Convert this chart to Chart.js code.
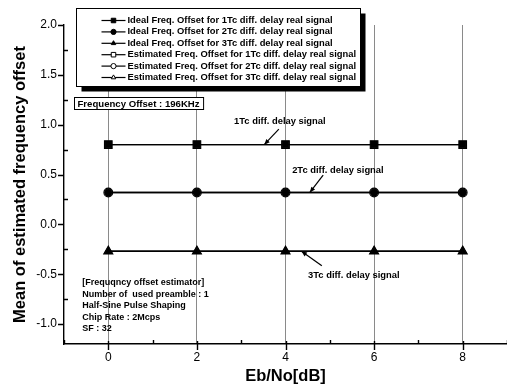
<!DOCTYPE html>
<html>
<head>
<meta charset="utf-8">
<script src="https://cdn.jsdelivr.net/npm/chart.js@4.4.1/dist/chart.umd.min.js"></script>
<style>
  html, body { margin: 0; padding: 0; background: #fff; }
  #wrap { width: 507px; height: 391px; }
</style>
</head>
<body>
<div id="wrap"><canvas id="c" width="507" height="391"></canvas></div>
<script>
// Eb/No points (dB)
const ebNo = [0, 2, 4, 6, 8];

// Ideal frequency offset per differential delay
const ideal1Tc = [0.80, 0.80, 0.80, 0.80, 0.80];
const ideal2Tc = [0.32, 0.32, 0.32, 0.32, 0.32];
const ideal3Tc = [-0.27, -0.27, -0.27, -0.27, -0.27];

// Estimated (mean) frequency offset per differential delay
const est1Tc = [0.80, 0.80, 0.80, 0.80, 0.80];
const est2Tc = [0.32, 0.32, 0.32, 0.32, 0.32];
const est3Tc = [-0.27, -0.27, -0.27, -0.27, -0.27];

const seriesLabels = [
  'Ideal Freq. Offset for 1Tc diff. delay real signal',
  'Ideal Freq. Offset for 2Tc diff. delay real signal',
  'Ideal Freq. Offset for 3Tc diff. delay real signal',
  'Estimated Freq. Offset for 1Tc diff. delay real signal',
  'Estimated Freq. Offset for 2Tc diff. delay real signal',
  'Estimated Freq. Offset for 3Tc diff. delay real signal'
];

const xTickValues = [0, 2, 4, 6, 8];
const xMinorValues = [-1, 1, 3, 5, 7, 9];
const yTickValues = [-1.0, -0.5, 0.0, 0.5, 1.0, 1.5, 2.0];
const yMinorValues = [-0.75, -0.25, 0.25, 0.75, 1.25, 1.75];

const offsetNote = 'Frequency Offset : 196KHz';
const estimatorNotes = [
  '[Frequqncy offset estimator]',
  'Number of  used preamble : 1',
  'Half-Sine Pulse Shaping',
  'Chip Rate : 2Mcps',
  'SF : 32'
];
// Callout labels: text, text anchor (data units), arrow start and tip (data units)
const callouts = [
  { text: '1Tc diff. delay signal', at: [2.84, 1.03], from: [3.85, 0.955], to: [3.52, 0.80] },
  { text: '2Tc diff. delay signal', at: [4.15, 0.545], from: [4.85, 0.495], to: [4.55, 0.32] },
  { text: '3Tc diff. delay signal', at: [4.51, -0.515], from: [4.82, -0.415], to: [4.36, -0.27] }
];

const toPoints = arr => arr.map((v, i) => ({ x: ebNo[i], y: v }));

function series(label, data, style, filled, radius) {
  return {
    label: label,
    data: toPoints(data),
    borderColor: '#000',
    borderWidth: 1.4,
    pointStyle: style,
    pointRadius: radius,
    pointHoverRadius: radius,
    pointBackgroundColor: filled ? '#000' : '#fff',
    pointBorderColor: '#000',
    pointBorderWidth: 1.1,
    showLine: true,
    tension: 0,
    filled: filled
  };
}

const FONT = '"Liberation Sans", Arial, sans-serif';

// Axis tick marks: major outward, minor inward
const tickMarks = {
  id: 'tickMarks',
  afterDraw(chart) {
    const { ctx, chartArea: a, scales: { x, y } } = chart;
    ctx.save();
    ctx.strokeStyle = '#000';
    ctx.lineWidth = 1.4;
    ctx.beginPath();
    yTickValues.forEach(v => { const py = Math.round(y.getPixelForValue(v)) + 0.5; ctx.moveTo(a.left - 6, py); ctx.lineTo(a.left, py); });
    yMinorValues.forEach(v => { const py = Math.round(y.getPixelForValue(v)) + 0.5; ctx.moveTo(a.left, py); ctx.lineTo(a.left + 4, py); });
    xTickValues.forEach(v => { const px = Math.round(x.getPixelForValue(v)) + 0.5; ctx.moveTo(px, a.bottom - 3); ctx.lineTo(px, a.bottom + 6); });
    xMinorValues.forEach(v => { const px = Math.round(x.getPixelForValue(v)) + 0.5; ctx.moveTo(px, a.bottom); ctx.lineTo(px, a.bottom - 4); });
    ctx.stroke();
    ctx.restore();
  }
};

// Boxed legend with drop shadow, plus the text notes and callouts
const notes = {
  id: 'notes',
  afterDraw(chart) {
    const { ctx, scales: { x, y } } = chart;
    const px = v => x.getPixelForValue(v);
    const py = v => y.getPixelForValue(v);
    ctx.save();

    // legend box
    const bx = Math.round(px(-0.74)) + 0.5, by = Math.round(py(2.175)) + 0.5;
    const bw = 284, bh = 78;
    ctx.fillStyle = '#000';
    ctx.fillRect(bx + 5, by + 5, bw, bh);
    ctx.fillStyle = '#fff';
    ctx.fillRect(bx, by, bw, bh);
    ctx.strokeStyle = '#000';
    ctx.lineWidth = 1;
    ctx.strokeRect(bx, by, bw, bh);

    ctx.font = 'bold 9.4px ' + FONT;
    ctx.textBaseline = 'middle';
    ctx.textAlign = 'left';
    chart.data.datasets.forEach((ds, i) => {
      const ly = by + 12 + i * 11.4;
      const sx = bx + 25, ex = bx + 49, mx = (sx + ex) / 2;
      ctx.strokeStyle = '#000';
      ctx.lineWidth = 1.2;
      ctx.beginPath();
      ctx.moveTo(sx, ly); ctx.lineTo(ex, ly);
      ctx.stroke();
      ctx.fillStyle = ds.filled ? '#000' : '#fff';
      ctx.lineWidth = 1;
      Chart.helpers.drawPoint(ctx, { pointStyle: ds.pointStyle, radius: ds.pointStyle === 'rect' ? 3.2 : 2.6, rotation: 0, borderWidth: 1 }, mx, ly);
      ctx.fillStyle = '#000';
      ctx.fillText(ds.label, ex + 2, ly);
    });

    // frequency offset box
    ctx.font = 'bold 9.6px ' + FONT;
    const fx = Math.round(px(-0.77)) + 0.5, fy = Math.round(py(1.275)) + 0.5;
    const fw = ctx.measureText(offsetNote).width + 7;
    ctx.fillStyle = '#fff';
    ctx.fillRect(fx, fy, fw, 12);
    ctx.strokeStyle = '#000';
    ctx.lineWidth = 1;
    ctx.strokeRect(fx, fy, fw, 12);
    ctx.fillStyle = '#000';
    ctx.fillText(offsetNote, fx + 3, fy + 6.5);

    // estimator parameters
    ctx.font = 'bold 9px ' + FONT;
    estimatorNotes.forEach((t, i) => {
      ctx.fillText(t, px(-0.59), py(-0.585) + i * 11.5);
    });

    // callouts with arrows
    ctx.font = 'bold 9.4px ' + FONT;
    callouts.forEach(c => {
      ctx.fillStyle = '#000';
      ctx.fillText(c.text, px(c.at[0]), py(c.at[1]));
      const x0 = px(c.from[0]), y0 = py(c.from[1]);
      const x1 = px(c.to[0]), y1 = py(c.to[1]);
      ctx.strokeStyle = '#000';
      ctx.lineWidth = 1.2;
      ctx.beginPath();
      ctx.moveTo(x0, y0); ctx.lineTo(x1, y1);
      ctx.stroke();
      const ang = Math.atan2(y1 - y0, x1 - x0), L = 6, w = 0.4;
      ctx.beginPath();
      ctx.moveTo(x1, y1);
      ctx.lineTo(x1 - L * Math.cos(ang - w), y1 - L * Math.sin(ang - w));
      ctx.lineTo(x1 - L * Math.cos(ang + w), y1 - L * Math.sin(ang + w));
      ctx.closePath();
      ctx.fill();
    });

    ctx.restore();
  }
};

new Chart(document.getElementById('c'), {
  type: 'scatter',
  data: {
    datasets: [
      series(seriesLabels[0], ideal1Tc, 'rect', true, 4.6),
      series(seriesLabels[1], ideal2Tc, 'circle', true, 3.6),
      series(seriesLabels[2], ideal3Tc, 'triangle', true, 4.4),
      series(seriesLabels[3], est1Tc, 'rect', false, 5.4),
      series(seriesLabels[4], est2Tc, 'circle', false, 4.4),
      series(seriesLabels[5], est3Tc, 'triangle', false, 5.2)
    ]
  },
  options: {
    responsive: false,
    animation: false,
    layout: { autoPadding: false, padding: { top: 25, right: 0, left: 0, bottom: 0 } },
    plugins: { legend: { display: false }, tooltip: { enabled: false } },
    scales: {
      x: {
        type: 'linear',
        min: -1, max: 9,
        afterBuildTicks: s => { s.ticks = xTickValues.map(v => ({ value: v })); },
        afterFit: s => { s.height = 47; },
        ticks: { color: '#000', padding: 6, font: { family: FONT, size: 12 }, callback: v => String(v) },
        grid: { display: true, drawTicks: false, color: '#8a8a8a', lineWidth: 1, borderDash: [4, 2, 1, 2] },
        border: { display: true, color: '#000', width: 1.4 },
        title: { display: true, text: 'Eb/No[dB]', color: '#000', font: { family: FONT, size: 16.5, weight: 'bold' }, padding: { top: 0, bottom: 5 } }
      },
      y: {
        type: 'linear',
        min: -1.2, max: 2.0,
        afterBuildTicks: s => { s.ticks = yTickValues.map(v => ({ value: v })); },
        afterFit: s => { s.width = 64; },
        ticks: { color: '#000', padding: 7, font: { family: FONT, size: 12 }, callback: v => v.toFixed(1) },
        grid: { display: false, drawTicks: false },
        border: { display: true, color: '#000', width: 1.4 },
        title: { display: true, text: 'Mean of estimated frequency offset', color: '#000', font: { family: FONT, size: 16.5, weight: 'bold' }, padding: { top: 11, bottom: 0 } }
      }
    }
  },
  plugins: [tickMarks, notes]
});
</script>
</body>
</html>
